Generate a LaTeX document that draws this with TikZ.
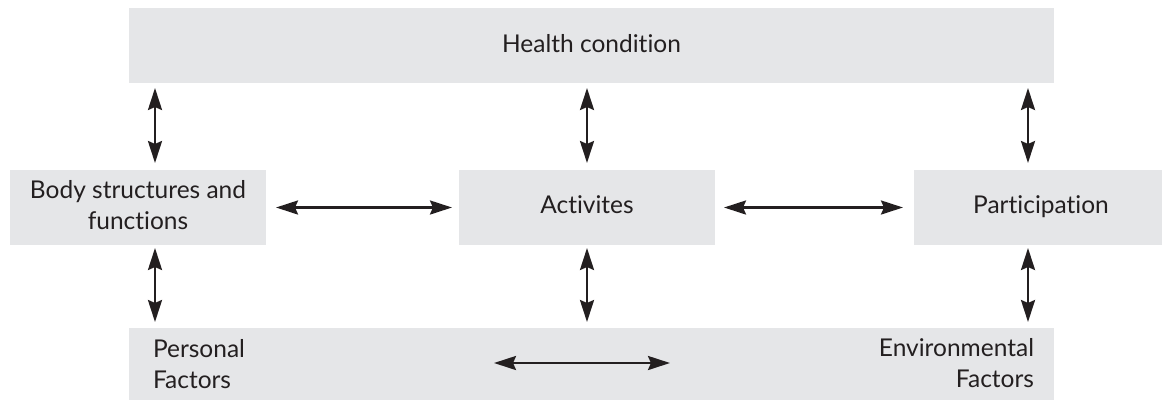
\documentclass[tikz,border=0pt]{standalone}
\usepackage{fontspec}
\setmainfont{Lato}[Ligatures={NoCommon}]
\usetikzlibrary{arrows.meta}
\definecolor{boxgray}{RGB}{229,230,232}
\definecolor{ink}{RGB}{35,31,32}
\begin{document}
\begin{tikzpicture}[x=1pt,y=-1pt,
  box/.style={fill=boxgray, draw=none, inner sep=0pt, outer sep=0pt, anchor=north west},
  lbl/.style={font=\fontsize{24.5}{31}\selectfont, text=ink, inner sep=0pt, outer sep=0pt},
  arr/.style={draw=ink, line width=2.6pt, {Stealth[length=22pt,width=14pt,inset=3pt]}-{Stealth[length=22pt,width=14pt,inset=3pt]}}]
\useasboundingbox (0,0) rectangle (1162,400);
% boxes
\node[box, minimum width=925pt, minimum height=75pt] (health) at (129,8) {};
\node[box, minimum width=256pt, minimum height=75pt] (body) at (10,170) {};
\node[box, minimum width=256pt, minimum height=75pt] (act) at (459,170) {};
\node[box, minimum width=248pt, minimum height=75pt] (part) at (914,170) {};
\node[box, minimum width=925pt, minimum height=72pt] (factors) at (129,328) {};
% texts
\node[lbl, anchor=base] (htext) at (591.5,52) {Health condition};
\node[lbl, anchor=base, align=center] (btext) at (138,229) {Body structures and\\functions};
\node[lbl, anchor=base] (atext) at (587,213) {Activites};
\node[lbl, anchor=base] (ptext) at (1041,213) {Participation};
\node[lbl, anchor=base west, align=left] (pftext) at (153,388) {Personal\\Factors};
\node[lbl, anchor=base east, align=right] (eftext) at (1034,387) {Environmental\\Factors};
% arrow columns
\coordinate (xL) at (155,0);
\coordinate (xM) at (587,0);
\coordinate (xR) at (1028,0);
\draw[arr] ([yshift=-5pt]health.south -| xL) -- ([yshift=7pt]body.north -| xL);
\draw[arr] ([yshift=-5pt]health.south -| xM) -- ([yshift=7pt]act.north -| xM);
\draw[arr] ([yshift=-5pt]health.south -| xR) -- ([yshift=7pt]part.north -| xR);
\draw[arr] ([yshift=-3pt]body.south -| xL) -- ([yshift=6pt]factors.north -| xL);
\draw[arr] ([yshift=-3pt]act.south -| xM) -- ([yshift=6pt]factors.north -| xM);
\draw[arr] ([yshift=-3pt]part.south -| xR) -- ([yshift=6pt]factors.north -| xR);
\draw[arr] ([xshift=10pt]body.east) -- ([xshift=-7pt]act.west);
\draw[arr] ([xshift=9pt]act.east) -- ([xshift=-11pt]part.west);
\coordinate (fl) at (494,363);
\coordinate (fr) at (670,363);
\draw[arr] (fl) -- (fr);
\end{tikzpicture}
\end{document}
